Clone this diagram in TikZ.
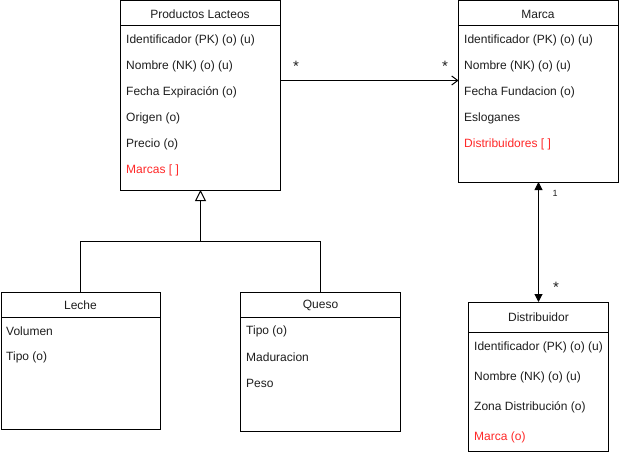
\documentclass[tikz,border=0pt]{standalone}
\usepackage{fontspec}
\setmainfont{Liberation Sans}
\usetikzlibrary{arrows.meta}
\definecolor{txt}{RGB}{30,30,30}
\definecolor{redtxt}{RGB}{255,40,40}
\begin{document}
\begin{tikzpicture}[x=1pt,y=-1pt,
  box/.style={draw=black,line width=1pt,fill=white,anchor=north west,inner sep=0pt,outer sep=0pt},
  title/.style={font=\fontsize{12}{14}\selectfont,text=txt,anchor=center,inner sep=0pt},
  attr/.style={font=\fontsize{12}{14}\selectfont,text=txt,anchor=west,inner sep=0pt},
  redattr/.style={attr,text=redtxt},
  mult/.style={font=\fontsize{15}{16}\selectfont,text=txt,inner sep=0pt},
  conn/.style={line width=1pt,draw=black},
  openarrow/.style={conn,-{Straight Barb[length=6pt,width=9pt,line width=1pt]}},
  genarrow/.style={conn,-{Triangle[open,length=11pt,width=11pt,fill=white,line width=1pt]}},
  blockarrows/.style={conn,{Triangle[length=8pt,width=8pt]}-{Triangle[length=8pt,width=8pt]}}
]
\useasboundingbox (0,0) rectangle (619,452);

% Productos Lacteos
\node[box,minimum width=160pt,minimum height=189pt] (prod) at (120.5,1) {};
\draw[conn] (prod.north west |- {(0,26)}) -- (prod.north east |- {(0,26)});
\node[title] (prodt) at (200,14) {Productos Lacteos};
\node[attr] (p1) at (126,40) {Identificador (PK) (o) (u)};
\node[attr] (p2) at (126,66) {Nombre (NK) (o) (u)};
\node[attr] (p3) at (126,92) {Fecha Expiración (o)};
\node[attr] (p4) at (126,118) {Origen (o)};
\node[attr] (p5) at (126,144) {Precio (o)};
\node[redattr] (p6) at (126,170) {Marcas [ ]};

% Marca
\node[box,minimum width=160pt,minimum height=181pt] (marca) at (458.5,1) {};
\draw[conn] (marca.north west |- {(0,26)}) -- (marca.north east |- {(0,26)});
\node[title] (marcat) at (538,14) {Marca};
\node[attr] (m1) at (464,40) {Identificador (PK) (o) (u)};
\node[attr] (m2) at (464,66) {Nombre (NK) (o) (u)};
\node[attr] (m3) at (464,92) {Fecha Fundacion (o)};
\node[attr] (m4) at (464,118) {Esloganes};
\node[redattr] (m5) at (464,144) {Distribuidores [ ]};

% Leche
\node[box,minimum width=159pt,minimum height=137pt] (leche) at (1,292) {};
\draw[conn] (leche.north west |- {(0,317)}) -- (leche.north east |- {(0,317)});
\node[title] (lechet) at (80.5,305) {Leche};
\node[attr] (l1) at (6,331) {Volumen};
\node[attr] (l2) at (6,357) {Tipo (o)};

% Queso
\node[box,minimum width=160pt,minimum height=139pt] (queso) at (240.5,292) {};
\draw[conn] (queso.north west |- {(0,317)}) -- (queso.north east |- {(0,317)});
\node[title] (quesot) at (320.5,305) {Queso};
\node[attr] (q1) at (246,331) {Tipo (o)};
\node[attr] (q2) at (246,357) {Maduracion};
\node[attr] (q3) at (246,383) {Peso};

% Distribuidor
\node[box,minimum width=140pt,minimum height=149pt] (dist) at (468.5,302) {};
\draw[conn] (dist.north west |- {(0,332)}) -- (dist.north east |- {(0,332)});
\node[title] (distt) at (538.5,317) {Distribuidor};
\node[attr] (d1) at (474,347) {Identificador (PK) (o) (u)};
\node[attr] (d2) at (474,377) {Nombre (NK) (o) (u)};
\node[attr] (d3) at (474,407) {Zona Distribución (o)};
\node[redattr] (d4) at (474,437) {Marca (o)};

% Association Productos -> Marca
\draw[openarrow] (prod.east |- {(0,80.5)}) -- (marca.west |- {(0,80.5)});
\node[mult] (s1) at (296,66) {*};
\node[mult] (s2) at (445,66) {*};

% Generalization
\coordinate (j) at (200.5,241.5);
\draw[conn] (leche.north) |- (j) -| (queso.north);
\draw[genarrow] (j) -- (prod.south);

% Marca <-> Distribuidor
\draw[blockarrows] (marca.south) -- (dist.north);
\node[mult,font=\fontsize{9}{10}\selectfont] (one) at (555,193) {1};
\node[mult] (s3) at (556,287) {*};
\end{tikzpicture}
\end{document}
